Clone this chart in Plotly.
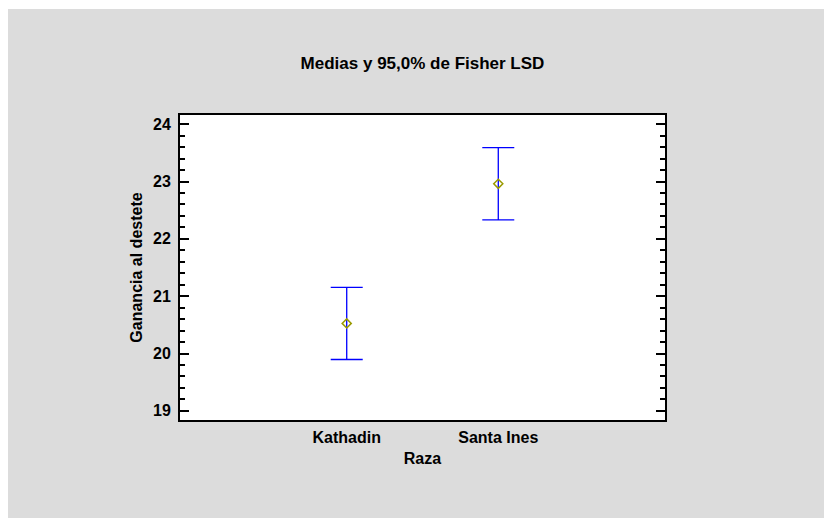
import plotly.graph_objects as go

categories = ["Kathadin", "Santa Ines"]
means = [20.525, 22.96]
lsd_half = [0.63, 0.63]
y_ticks = [19, 20, 21, 22, 23, 24]

title_text = "Medias y 95,0% de Fisher LSD"
x_title = "Raza"
y_title = "Ganancia al destete"

FONT = "Liberation Sans, Arial, sans-serif"
W, H = 824, 518
L, R, T, B = 180, 665, 115, 420

fig = go.Figure()
fig.add_trace(go.Scatter(
    x=categories, y=means, mode="markers",
    marker=dict(symbol="diamond-open", size=7, color="#9a9a00", line=dict(width=1.5, color="#9a9a00")),
    error_y=dict(type="data", array=lsd_half, visible=True, color="#0000ff", thickness=1.3, width=16),
    showlegend=False, hoverinfo="skip",
))


def px_to_paper_x(px):
    return (px - L) / (R - L)


def px_to_paper_y(py):
    return (B - py) / (B - T)


fig.update_layout(
    width=W, height=H,
    margin=dict(l=L, r=W - R, t=T, b=H - B, pad=0),
    paper_bgcolor="#dcdcdc",
    plot_bgcolor="#ffffff",
    font=dict(family=FONT, size=16, color="#000000", weight="bold"),
    title=dict(text=title_text, x=0.5, xref="paper", xanchor="center",
               y=1 - 63 / H, yref="container", yanchor="middle",
               font=dict(family=FONT, size=17, color="#000000", weight="bold")),
    xaxis=dict(
        type="category", range=[-1.1, 2.1],
        showline=True, linecolor="#000000", linewidth=2, mirror=True,
        ticks="", showgrid=False, zeroline=False,
        ticklabelstandoff=2,
        tickfont=dict(family=FONT, size=16, weight="bold"),
        title=dict(text=x_title, font=dict(family=FONT, size=16, weight="bold"), standoff=8),
    ),
    yaxis=dict(
        range=[18.84, 24.16], tickvals=y_ticks,
        showline=True, linecolor="#000000", linewidth=2, mirror="allticks",
        ticks="inside", ticklen=9, tickwidth=2, tickcolor="#000000",
        minor=dict(dtick=0.2, ticks="inside", ticklen=5, tickwidth=1.5, tickcolor="#000000", showgrid=False),
        showgrid=False, zeroline=False,
        ticklabelstandoff=4,
        tickfont=dict(family=FONT, size=16, weight="bold"),
        title=dict(text=y_title, font=dict(family=FONT, size=16, weight="bold"), standoff=6),
    ),
    shapes=[
        dict(type="rect", xref="paper", yref="paper",
             x0=px_to_paper_x(0), x1=px_to_paper_x(W), y0=px_to_paper_y(0), y1=px_to_paper_y(9),
             fillcolor="#ffffff", line=dict(width=0), layer="above"),
        dict(type="rect", xref="paper", yref="paper",
             x0=px_to_paper_x(0), x1=px_to_paper_x(8), y0=px_to_paper_y(0), y1=px_to_paper_y(H),
             fillcolor="#ffffff", line=dict(width=0), layer="above"),
    ],
)

fig.write_html(
    "out.html",
    config={"displayModeBar": False},
    post_script="document.body.style.margin='0';document.body.style.background='#dcdcdc';"
                "document.documentElement.style.background='#dcdcdc';",
)
